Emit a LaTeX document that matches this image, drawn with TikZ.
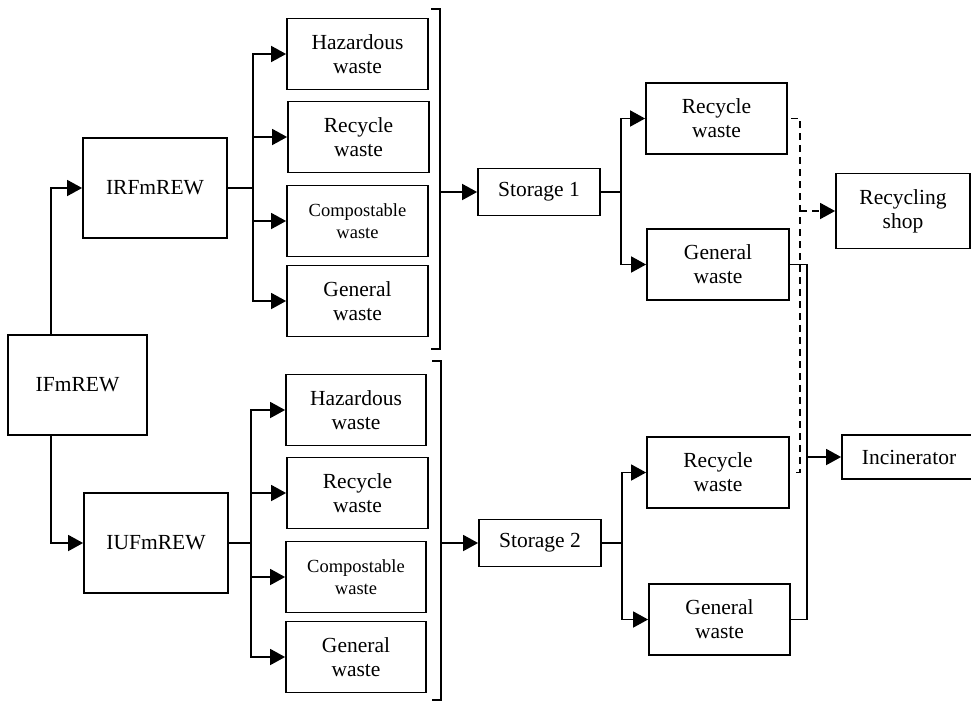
\documentclass[tikz,border=0pt]{standalone}
\usepackage{fontspec}
\setmainfont{Liberation Serif}
\usetikzlibrary{arrows.meta,calc}
\begin{document}
\begin{tikzpicture}[x=1pt,y=-1pt,
  box/.style={draw,line width=1.8pt,rectangle,align=center,inner sep=0pt,
    font=\fontsize{21.5}{24}\selectfont},
  wbox/.style={box,minimum width=141pt,minimum height=71pt},
  small/.style={font=\fontsize{18.5}{21.5}\selectfont},
  conn/.style={line width=1.7pt},
  arr/.style={conn,-{Triangle[length=15pt,width=16pt]}},
  dashline/.style={line width=1.6pt,dash pattern=on 7pt off 5pt},
  darr/.style={dashline,-{Triangle[length=15pt,width=16pt]}}
]
\useasboundingbox (0,0) rectangle (971,702);

% left column
\node[box,minimum width=139pt,minimum height=100pt] (ifm) at (77.5,385) {IFmREW};
\node[box,minimum width=144pt,minimum height=100pt] (irf) at (155,188) {IRFmREW};
\node[box,minimum width=144pt,minimum height=100pt] (iuf) at (156,543) {IUFmREW};

% group 1
\node[wbox] (h1) at (357.5,54) {Hazardous\\waste};
\node[wbox] (r1) at (358.5,137) {Recycle\\waste};
\node[wbox,small] (c1) at (357.5,221) {Compostable\\waste};
\node[wbox] (g1) at (357.5,301) {General\\waste};

% group 2
\node[wbox,minimum width=140pt] (h2) at (356,410) {Hazardous\\waste};
\node[wbox] (r2) at (357.5,493) {Recycle\\waste};
\node[wbox,minimum width=140pt,small] (c2) at (356,577) {Compostable\\waste};
\node[wbox,minimum width=140pt] (g2) at (356,657) {General\\waste};

% storage
\node[box,minimum width=122pt,minimum height=47pt] (s1) at (539,192) {Storage 1};
\node[box,minimum width=122pt,minimum height=47pt] (s2) at (540,543) {Storage 2};

% right column
\node[wbox] (rw1) at (716.5,118.5) {Recycle\\waste};
\node[wbox,minimum width=142pt] (gw1) at (718,264.5) {General\\waste};
\node[wbox,minimum width=142pt] (rw2) at (718,472.5) {Recycle\\waste};
\node[wbox] (gw2) at (719.5,619.5) {General\\waste};

\node[box,minimum width=134pt,minimum height=75pt] (shop) at (903,211) {Recycling\\shop};
\node[box,minimum width=134pt,minimum height=44pt] (inc) at (909,457) {Incinerator};

% IFmREW connectors
\draw[arr] ([xshift=44pt]ifm.north west) |- (irf.west);
\draw[arr] ([xshift=44pt]ifm.south west) |- (iuf.west);

% branch group 1
\coordinate (j1) at (253,188);
\draw[conn] (irf.east) -- (j1);
\foreach \n in {h1,r1,c1,g1} \draw[arr] (j1) |- (\n.west);

% branch group 2
\coordinate (j2) at (251,543);
\draw[conn] (iuf.east) -- (j2);
\foreach \n in {h2,r2,c2,g2} \draw[arr] (j2) |- (\n.west);

% brackets
\draw[conn] (431,9) -- (440,9) -- (440,349) -- (431,349);
\draw[conn] (432,361) -- (441,361) -- (441,700) -- (432,700);
\coordinate (br1) at (440,192);
\coordinate (br2) at (441,543);
\draw[arr] (br1) -- (s1.west);
\draw[arr] (br2) -- (s2.west);

% storage branches
\coordinate (k1) at (621,192);
\draw[conn] (s1.east) -- (k1);
\draw[arr] (k1) |- (rw1.west);
\draw[arr] (k1) |- (gw1.west);
\coordinate (k2) at (622,543);
\draw[conn] (s2.east) -- (k2);
\draw[arr] (k2) |- (rw2.west);
\draw[arr] (k2) |- (gw2.west);

% dashed recycle route
\coordinate (dv) at (800,211);
\draw[dashline] ([xshift=3pt]rw1.east) -| (dv) |- ([xshift=3pt]rw2.east);
\draw[darr] (dv) -- (shop.west);

% solid general route
\coordinate (sv) at (807,457);
\draw[conn] (gw1.east) -| (sv) |- (gw2.east);
\draw[arr] (sv) -- (inc.west);
\end{tikzpicture}
\end{document}
